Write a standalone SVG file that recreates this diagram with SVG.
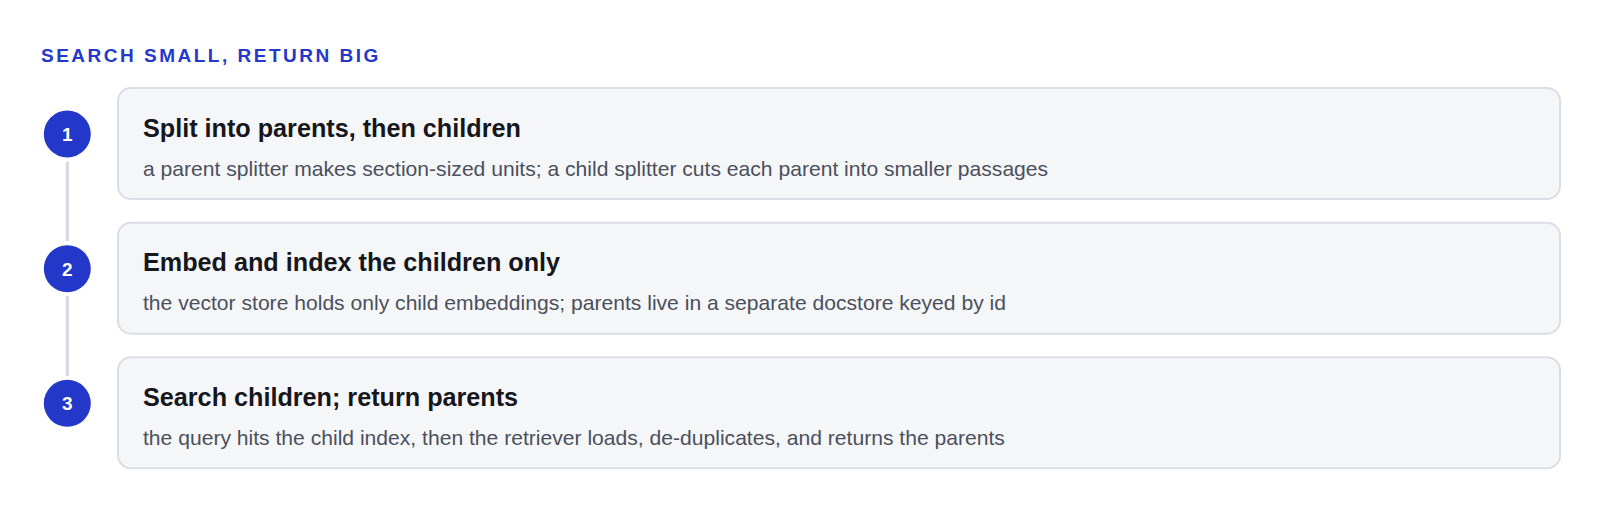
<svg xmlns="http://www.w3.org/2000/svg" width="1600" height="509" viewBox="0 0 1600 509">
<style>
.bg{fill:#ffffff}
.heading{font-family:"Liberation Sans",Arial,sans-serif;font-weight:700;font-size:19px;letter-spacing:2.5px;fill:#2438cc}
.card{fill:#f5f6f8;stroke:#dcdee6;stroke-width:2}
.dot{fill:#2337c9}
.num{font-family:"Liberation Sans",Arial,sans-serif;font-weight:700;font-size:19px;fill:#ffffff;text-anchor:middle}
.title{font-family:"Liberation Sans",Arial,sans-serif;font-weight:700;font-size:25.2px;fill:#16171c}
.sub{font-family:"Liberation Sans",Arial,sans-serif;font-size:21.1px;fill:#4b505d}
.rail{stroke:#d6d9e1;stroke-width:3;fill:none}
</style>
<rect class="bg" x="0" y="0" width="1600" height="509"/>
<text class="heading" x="41" y="62">SEARCH SMALL, RETURN BIG</text>
<g id="connectors">
<line class="rail" x1="67.3" y1="161.5" x2="67.3" y2="241.2"/>
<line class="rail" x1="67.3" y1="296.2" x2="67.3" y2="375.8"/>
</g>
<g id="step1">
<circle class="dot" cx="67.3" cy="134" r="23.5"/>
<text class="num" x="67.3" y="140.8">1</text>
<rect class="card" x="118" y="88" width="1442" height="111" rx="13"/>
<text class="title" x="143" y="136.5">Split into parents, then children</text>
<text class="sub" x="143" y="175.5">a parent splitter makes section-sized units; a child splitter cuts each parent into smaller passages</text>
</g>
<g id="step2">
<circle class="dot" cx="67.3" cy="268.7" r="23.5"/>
<text class="num" x="67.3" y="275.5">2</text>
<rect class="card" x="118" y="222.7" width="1442" height="111" rx="13"/>
<text class="title" x="143" y="271.2">Embed and index the children only</text>
<text class="sub" x="143" y="310.2">the vector store holds only child embeddings; parents live in a separate docstore keyed by id</text>
</g>
<g id="step3">
<circle class="dot" cx="67.3" cy="403.3" r="23.5"/>
<text class="num" x="67.3" y="410.1">3</text>
<rect class="card" x="118" y="357.3" width="1442" height="111" rx="13"/>
<text class="title" x="143" y="405.8">Search children; return parents</text>
<text class="sub" x="143" y="444.8">the query hits the child index, then the retriever loads, de-duplicates, and returns the parents</text>
</g>
</svg>
